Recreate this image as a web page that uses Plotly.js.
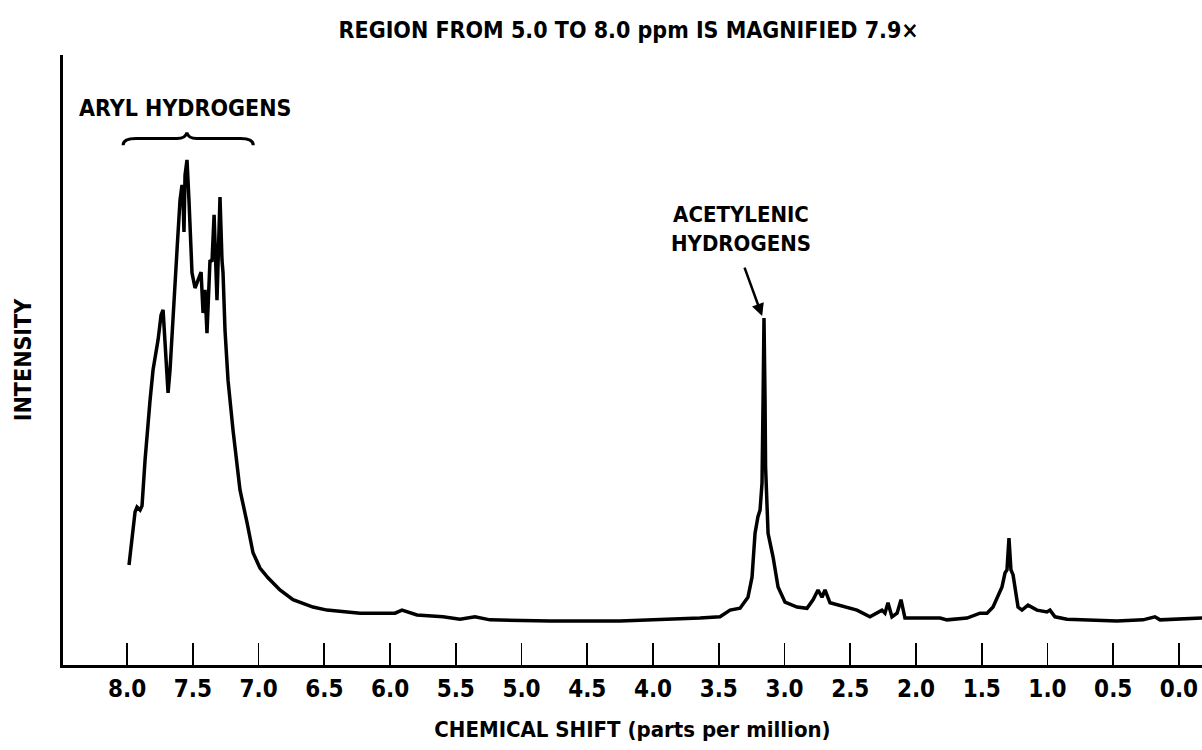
<!DOCTYPE html>
<html>
<head>
<meta charset="utf-8">
<script src="https://cdn.plot.ly/plotly-3.0.1.min.js"></script>
<style>html,body{margin:0;padding:0;background:#fff;}#chart{width:1202px;height:750px;}</style>
</head>
<body>
<div id="chart"></div>
<script>
// Chemical shift (ppm) and relative intensity
const shiftPpm = [
  7.985, 7.939, 7.924, 7.901, 7.886, 7.863, 7.825, 7.802, 7.764, 7.741,
  7.726, 7.711, 7.688, 7.673, 7.650, 7.620, 7.597, 7.582, 7.574, 7.567,
  7.559, 7.544, 7.529, 7.506, 7.483, 7.460, 7.437, 7.422, 7.407, 7.392,
  7.369, 7.354, 7.338, 7.316, 7.293, 7.278, 7.270, 7.255, 7.232, 7.194,
  7.141, 7.087, 7.042, 6.989, 6.928, 6.837, 6.738, 6.586, 6.479, 6.228,
  6.023, 5.962, 5.909, 5.863, 5.795, 5.597, 5.468, 5.354, 5.240, 4.783,
  4.251, 3.643, 3.490, 3.414, 3.338, 3.278, 3.247, 3.224, 3.202, 3.186,
  3.171, 3.163, 3.156, 3.148, 3.144, 3.125, 3.087, 3.049, 2.996, 2.905,
  2.829, 2.783, 2.745, 2.715, 2.692, 2.654, 2.578, 2.449, 2.350, 2.297,
  2.259, 2.236, 2.213, 2.183, 2.144, 2.114, 2.084, 1.992, 1.817, 1.764,
  1.612, 1.513, 1.460, 1.414, 1.361, 1.346, 1.323, 1.308, 1.293, 1.278,
  1.262, 1.247, 1.224, 1.194, 1.148, 1.080, 1.004, 0.981, 0.943, 0.852,
  0.730, 0.471, 0.274, 0.183, 0.144, -0.030, -0.175
];
const intensity = [
  16.4, 25.1, 25.9, 25.4, 26.1, 33.6, 43.4, 48.4, 53.3, 57.4,
  58.2, 53.3, 44.6, 48.4, 57.7, 68.0, 76.2, 78.7, 76.2, 71.0,
  80.3, 82.8, 76.2, 64.3, 61.8, 63.1, 64.4, 57.7, 61.5, 54.4,
  66.4, 66.1, 73.8, 59.8, 76.7, 66.4, 64.3, 54.9, 46.7, 38.5,
  28.7, 23.3, 18.4, 15.9, 14.3, 12.3, 10.7, 9.5, 9.0, 8.5,
  8.4, 8.5, 9.0, 8.7, 8.2, 7.9, 7.5, 7.9, 7.4, 7.2,
  7.2, 7.7, 7.9, 9.0, 9.3, 11.1, 14.4, 21.6, 24.3, 25.4,
  29.8, 43.4, 56.9, 43.4, 32.5, 21.6, 17.7, 12.8, 10.3, 9.5,
  9.3, 10.7, 12.3, 11.1, 12.3, 10.2, 9.8, 9.0, 7.9, 8.5,
  9.0, 8.5, 10.2, 7.9, 8.5, 10.7, 7.7, 7.7, 7.7, 7.4,
  7.7, 8.5, 8.5, 9.5, 12.3, 12.8, 15.1, 15.6, 20.8, 15.6,
  14.8, 12.8, 9.5, 9.0, 9.8, 9.0, 8.7, 9.0, 7.9, 7.5,
  7.4, 7.2, 7.4, 7.9, 7.4, 7.5, 7.7
];
const tickValues = [8.0, 7.5, 7.0, 6.5, 6.0, 5.5, 5.0, 4.5, 4.0, 3.5, 3.0, 2.5, 2.0, 1.5, 1.0, 0.5, 0.0];
const tickLabels = ["8.0","7.5","7.0","6.5","6.0","5.5","5.0","4.5","4.0","3.5","3.0","2.5","2.0","1.5","1.0","0.5","0.0"];

const FONT = '"DejaVu Sans Condensed", "Liberation Sans Narrow", "Liberation Sans", Arial, sans-serif';

const trace = {
  x: shiftPpm, y: intensity, type: 'scatter', mode: 'lines',
  line: {color: '#000', width: 3.5, shape: 'linear'},
  hoverinfo: 'skip'
};

const layout = {
  width: 1202, height: 750,
  margin: {l: 63, r: 0, t: 55, b: 85},
  paper_bgcolor: '#fff', plot_bgcolor: '#fff',
  showlegend: false,
  font: {family: FONT, color: '#000', size: 20, weight: 'bold'},
  title: {
    text: 'REGION FROM 5.0 TO 8.0 ppm IS MAGNIFIED 7.9×',
    font: {family: FONT, size: 23, color: '#000', weight: 'bold'},
    x: 0.523, xanchor: 'center', y: 0.96, yanchor: 'middle'
  },
  xaxis: {
    range: [8.487, -0.175], autorange: false,
    tickmode: 'array', tickvals: tickValues, ticktext: tickLabels,
    ticks: 'inside', ticklen: 22, tickwidth: 1.6, tickcolor: '#000',
    showline: true, linewidth: 3, linecolor: '#000',
    showgrid: false, zeroline: false,
    tickfont: {family: FONT, size: 24, color: '#000', weight: 'bold'},
    title: {text: 'CHEMICAL SHIFT (parts per million)', font: {family: FONT, size: 22, color: '#000', weight: 'bold'}, standoff: 20}
  },
  yaxis: {
    range: [0, 100], autorange: false,
    showticklabels: false, ticks: '',
    showline: true, linewidth: 3, linecolor: '#000',
    showgrid: false, zeroline: false,
    title: {text: 'INTENSITY', font: {family: FONT, size: 23, color: '#000', weight: 'bold'}, standoff: 22}
  },
  shapes: [
    {
      type: 'path', xref: 'x', yref: 'y',
      path: 'M 8.03,85.2 Q 8.03,86.3 7.93,86.3 L 7.62,86.3 Q 7.555,86.3 7.545,87.3 Q 7.535,86.3 7.47,86.3 L 7.14,86.3 Q 7.04,86.3 7.04,85.2',
      line: {color: '#000', width: 3}
    }
  ],
  annotations: [
    {
      text: 'ARYL HYDROGENS', xref: 'x', yref: 'y', x: 7.56, y: 91.3,
      showarrow: false, xanchor: 'center', yanchor: 'middle',
      font: {family: FONT, size: 23, color: '#000', weight: 'bold'}
    },
    {
      text: 'ACETYLENIC<br>HYDROGENS', xref: 'x', yref: 'y', x: 3.33, y: 71.5,
      showarrow: false, xanchor: 'center', yanchor: 'middle', align: 'center',
      font: {family: FONT, size: 22, color: '#000', weight: 'bold'}
    },
    {
      text: '', xref: 'x', yref: 'y', x: 3.17, y: 57.2,
      axref: 'x', ayref: 'y', ax: 3.308, ay: 65.4,
      showarrow: true, arrowhead: 2, arrowsize: 1, arrowwidth: 2.5, arrowcolor: '#000'
    }
  ]
};

Plotly.newPlot('chart', [trace], layout, {staticPlot: true, displayModeBar: false});
</script>
</body>
</html>
